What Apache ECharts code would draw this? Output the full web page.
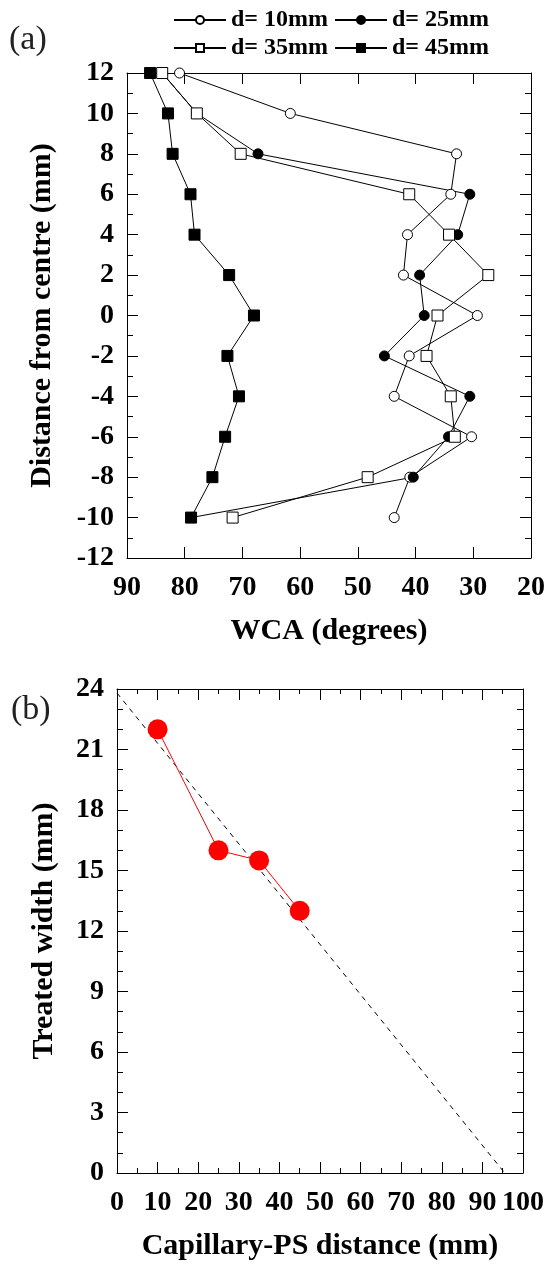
<!DOCTYPE html>
<html>
<head>
<meta charset="utf-8">
<title>WCA and treated width</title>
<script src="https://cdn.jsdelivr.net/npm/echarts@6/dist/echarts.min.js"></script>
<style>
  html, body { margin: 0; padding: 0; background: #ffffff; }
  #chart { width: 549px; height: 1265px; }
</style>
</head>
<body>
<div id="chart"></div>
<script>
// (a) distance from centre (mm) and WCA (degrees) per capillary distance
var distance = [12, 10, 8, 6, 4, 2, 0, -2, -4, -6, -8, -10];
var wca10 = [80.9, 61.7, 32.9, 33.9, 41.4, 42.1, 29.3, 41.1, 43.7, 30.3, 41.0, 43.7];
var wca25 = [83.9, 77.9, 67.3, 30.6, 32.7, 39.3, 38.5, 45.4, 30.6, 34.3, 40.4, 78.9];
var wca35 = [83.9, 77.9, 70.3, 41.1, 34.2, 27.4, 36.2, 38.1, 33.9, 33.2, 48.3, 71.7];
var wca45 = [86.0, 82.9, 82.1, 79.0, 78.3, 72.3, 68.0, 72.6, 70.6, 73.0, 75.2, 78.9];

// (b) treated width against capillary-PS distance
var capDist = [10, 25, 35, 45];
var treatedWidth = [22, 16, 15.5, 13];
var fitX = [0, 95.5];
var fitY = [23.8, 0];

function pairs(xs, ys) {
  return xs.map(function (x, i) { return [x, ys[i]]; });
}

var serif = '"Liberation Serif", "DejaVu Serif", "Times New Roman", serif';
var black = '#000000';

function axisBase(extra) {
  var a = {
    type: 'value',
    axisLine: { show: true, onZero: false, lineStyle: { color: black, width: 1 } },
    axisTick: { show: true, inside: true, length: 11, lineStyle: { color: black } },
    splitLine: { show: false },
    axisLabel: { color: black, fontFamily: serif, fontWeight: 'bold', fontSize: 28 },
    nameTextStyle: { color: black, fontFamily: serif, fontWeight: 'bold', fontSize: 30 }
  };
  for (var k in extra) a[k] = extra[k];
  return a;
}

var chart = echarts.init(document.getElementById('chart'));

var option = {
  animation: false,
  backgroundColor: '#ffffff',
  textStyle: { fontFamily: serif },
  title: [
    { text: '(a)', left: 4, top: 18, textStyle: { fontFamily: serif, fontWeight: 'normal', fontSize: 34, color: '#222' } },
    { text: '(b)', left: 6, top: 688, textStyle: { fontFamily: serif, fontWeight: 'normal', fontSize: 34, color: '#222' } }
  ],
  legend: [
    {
      left: 168, top: 3, itemWidth: 52, itemHeight: 10, itemGap: 6,
      data: ['d= 10mm', 'd= 25mm'],
      textStyle: { fontFamily: serif, fontWeight: 'bold', fontSize: 24, color: black }
    },
    {
      left: 168, top: 31, itemWidth: 52, itemHeight: 10, itemGap: 6,
      data: ['d= 35mm', 'd= 45mm'],
      textStyle: { fontFamily: serif, fontWeight: 'bold', fontSize: 24, color: black }
    }
  ],
  grid: [
    { left: 127, top: 73, width: 404, height: 485 },
    { left: 117, top: 689, width: 406, height: 484 }
  ],
  xAxis: [
    axisBase({
      gridIndex: 0, min: 20, max: 90, interval: 10, inverse: true, position: 'bottom',
      axisLabel: { color: black, fontFamily: serif, fontWeight: 'bold', fontSize: 28, margin: 16 },
      name: 'WCA (degrees)', nameLocation: 'middle', nameGap: 58
    }),
    axisBase({
      gridIndex: 0, min: 20, max: 90, interval: 10, inverse: true, position: 'top',
      axisLabel: { show: false }
    }),
    axisBase({
      gridIndex: 1, min: 0, max: 100, interval: 10, position: 'bottom',
      minorTick: { show: true, splitNumber: 2, length: 5, lineStyle: { color: black } },
      axisLabel: { color: black, fontFamily: serif, fontWeight: 'bold', fontSize: 28, margin: 16 },
      name: 'Capillary-PS distance (mm)', nameLocation: 'middle', nameGap: 58
    }),
    axisBase({
      gridIndex: 1, min: 0, max: 100, interval: 10, position: 'top',
      minorTick: { show: true, splitNumber: 2, length: 5, lineStyle: { color: black } },
      axisLabel: { show: false }
    })
  ],
  yAxis: [
    axisBase({
      gridIndex: 0, min: -12, max: 12, interval: 2, position: 'left',
      minorTick: { show: true, splitNumber: 2, length: 6, lineStyle: { color: black } },
      axisLabel: { color: black, fontFamily: serif, fontWeight: 'bold', fontSize: 28, margin: 13 },
      name: 'Distance from centre (mm)', nameLocation: 'middle', nameGap: 70
    }),
    axisBase({
      gridIndex: 0, min: -12, max: 12, interval: 2, position: 'right',
      minorTick: { show: true, splitNumber: 2, length: 6, lineStyle: { color: black } },
      axisLabel: { show: false }
    }),
    axisBase({
      gridIndex: 1, min: 0, max: 24, interval: 3, position: 'left',
      minorTick: { show: true, splitNumber: 3, length: 6, lineStyle: { color: black } },
      axisLabel: { color: black, fontFamily: serif, fontWeight: 'bold', fontSize: 28, margin: 13 },
      name: 'Treated width (mm)', nameLocation: 'middle', nameGap: 58
    }),
    axisBase({
      gridIndex: 1, min: 0, max: 24, interval: 3, position: 'right',
      minorTick: { show: true, splitNumber: 3, length: 6, lineStyle: { color: black } },
      axisLabel: { show: false }
    })
  ],
  series: [
    {
      name: 'd= 10mm', type: 'line', xAxisIndex: 0, yAxisIndex: 0,
      data: pairs(wca10, distance),
      symbol: 'circle', symbolSize: 10,
      lineStyle: { color: black, width: 1 },
      itemStyle: { color: '#ffffff', borderColor: black, borderWidth: 1 }
    },
    {
      name: 'd= 25mm', type: 'line', xAxisIndex: 0, yAxisIndex: 0,
      data: pairs(wca25, distance),
      symbol: 'circle', symbolSize: 10,
      lineStyle: { color: black, width: 1 },
      itemStyle: { color: black, borderColor: black, borderWidth: 1 }
    },
    {
      name: 'd= 35mm', type: 'line', xAxisIndex: 0, yAxisIndex: 0,
      data: pairs(wca35, distance),
      symbol: 'rect', symbolSize: 11,
      lineStyle: { color: black, width: 1 },
      itemStyle: { color: '#ffffff', borderColor: black, borderWidth: 1 }
    },
    {
      name: 'd= 45mm', type: 'line', xAxisIndex: 0, yAxisIndex: 0,
      data: pairs(wca45, distance),
      symbol: 'rect', symbolSize: 11,
      lineStyle: { color: black, width: 1 },
      itemStyle: { color: black, borderColor: black, borderWidth: 1 }
    },
    {
      name: 'fit', type: 'line', xAxisIndex: 2, yAxisIndex: 2,
      data: pairs(fitX, fitY),
      symbol: 'none', silent: true,
      lineStyle: { color: black, width: 1, type: [5, 5] }
    },
    {
      name: 'width', type: 'line', xAxisIndex: 2, yAxisIndex: 2,
      data: pairs(capDist, treatedWidth),
      symbol: 'circle', symbolSize: 20,
      lineStyle: { color: '#ff0000', width: 1 },
      itemStyle: { color: '#ff0000' }
    }
  ]
};

chart.setOption(option);
</script>
</body>
</html>
